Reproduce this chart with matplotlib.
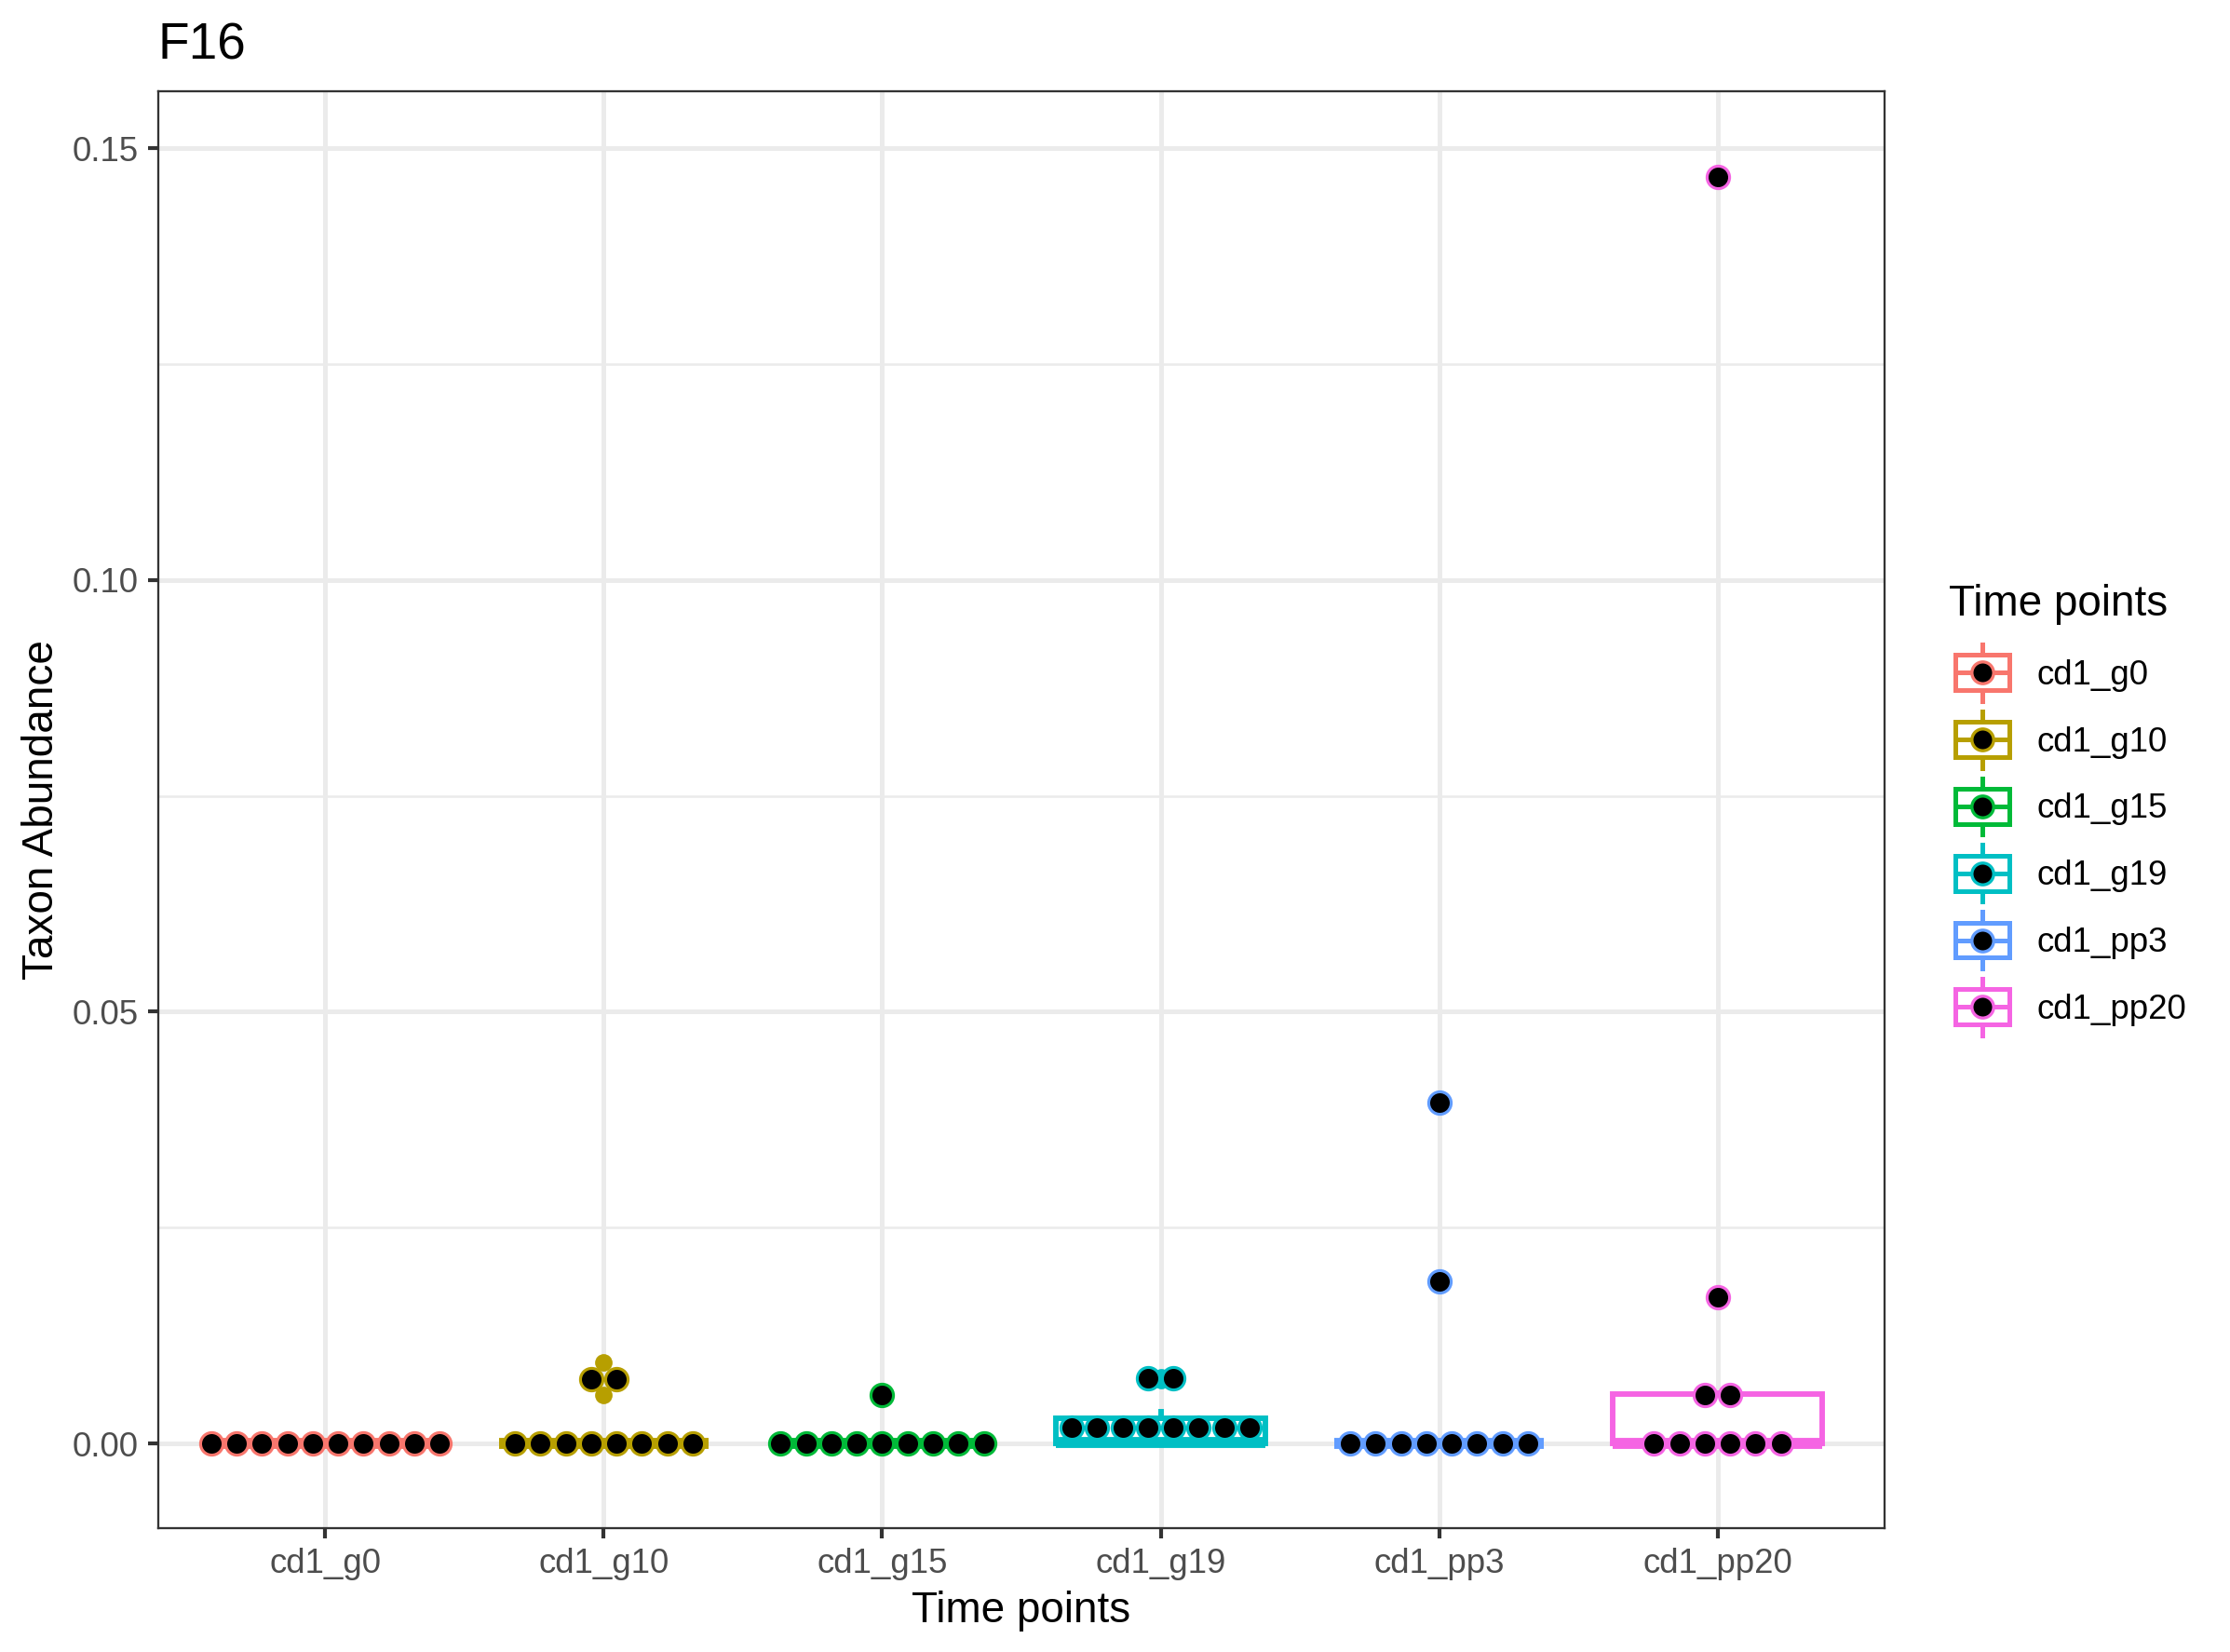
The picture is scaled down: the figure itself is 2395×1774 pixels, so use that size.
import numpy as np
import matplotlib
matplotlib.use("Agg")
import matplotlib.pyplot as plt
from matplotlib.patches import Rectangle
from matplotlib.lines import Line2D
from matplotlib.legend_handler import HandlerBase

plt.rcParams['font.family'] = ['Liberation Sans', 'DejaVu Sans']

# data
categories = ['cd1_g0', 'cd1_g10', 'cd1_g15', 'cd1_g19', 'cd1_pp3', 'cd1_pp20']
colors = ['#F8766D', '#B79F00', '#00BA38', '#00BFC4', '#619CFF', '#F564E3']

cd1_g0 = [0, 0, 0, 0, 0, 0, 0, 0, 0, 0]
cd1_g10 = [0, 0, 0, 0, 0, 0, 0, 0, 0.0056, 0.0094]
cd1_g15 = [0, 0, 0, 0, 0, 0, 0, 0, 0, 0.00565]
cd1_g19 = [0, 0, 0, 0, 0.0001, 0.0002, 0.0007, 0.0037, 0.0074, 0.0077]
cd1_pp3 = [0, 0, 0, 0, 0, 0, 0, 0, 0.0188, 0.0395]
cd1_pp20 = [0, 0, 0, 0, 0, 0, 0.0055, 0.0058, 0.0169, 0.1467]
groups = [cd1_g0, cd1_g10, cd1_g15, cd1_g19, cd1_pp3, cd1_pp20]

BINWIDTH = 0.0049
DOTSIZE = 0.6
YLIM = (-0.0098, 0.1566)
XLIM = (0.4, 6.6)

W, H, DPI = 2395, 1774, 300
fig = plt.figure(figsize=(W / DPI, H / DPI), dpi=DPI)
ax = fig.add_axes([170 / W, (H - 1641) / H, (2024 - 170) / W, (1641 - 98) / H])
ax.set_xlim(*XLIM)
ax.set_ylim(*YLIM)

# size of one dot in points, and its width in x data units
ax_w_pt = (2024 - 170) / DPI * 72
ax_h_pt = (1641 - 98) / DPI * 72
dot_pt = BINWIDTH * DOTSIZE * ax_h_pt / (YLIM[1] - YLIM[0])
dot_x = dot_pt * (XLIM[1] - XLIM[0]) / ax_w_pt
MEW = 0.75


def box_stats(v):
    v = np.asarray(v, dtype=float)
    q1, med, q3 = np.percentile(v, [25, 50, 75])
    iqr = q3 - q1
    inside = v[(v >= q1 - 1.5 * iqr) & (v <= q3 + 1.5 * iqr)]
    out = v[(v < q1 - 1.5 * iqr) | (v > q3 + 1.5 * iqr)]
    return q1, med, q3, inside.min(), inside.max(), out


def dot_bins(v):
    # dot-density binning, like geom_dotplot
    v = np.sort(np.asarray(v, dtype=float))
    bins = []
    i = 0
    while i < len(v):
        start = v[i]
        j = i
        while j < len(v) and v[j] < start + BINWIDTH:
            j += 1
        chunk = v[i:j]
        bins.append(((chunk.min() + chunk.max()) / 2, len(chunk)))
        i = j
    return bins


for k, (vals, col) in enumerate(zip(groups, colors)):
    x = k + 1
    q1, med, q3, lo, hi, out = box_stats(vals)
    ax.add_patch(Rectangle((x - 0.375, q1), 0.75, q3 - q1, facecolor='white',
                           edgecolor=col, lw=1.42, zorder=2))
    ax.plot([x - 0.375, x + 0.375], [med, med], color=col, lw=2.84,
            solid_capstyle='butt', zorder=2.1)
    ax.plot([x, x], [q3, hi], color=col, lw=1.42, zorder=2)
    ax.plot([x, x], [lo, q1], color=col, lw=1.42, zorder=2)
    if len(out):
        ax.plot(np.full(len(out), x), out, 'o', color=col, ms=4.5, mew=0,
                zorder=2.5)
    for yc, n in dot_bins(vals):
        xs = x + (np.arange(n) - (n - 1) / 2) * dot_x
        ax.plot(xs, np.full(n, yc), 'o', ms=dot_pt - MEW, mfc='black',
                mec=col, mew=MEW, zorder=3)

# axes styling (theme_bw-ish)
ax.set_xticks(range(1, len(categories) + 1))
ax.set_xticklabels(categories)
ax.set_yticks([0, 0.05, 0.10, 0.15])
ax.set_yticklabels(['0.00', '0.05', '0.10', '0.15'])
ax.set_yticks([0.025, 0.075, 0.125], minor=True)
ax.tick_params(axis='both', which='major', length=2.75, width=1.0,
               color='#333333', labelsize=8.8, labelcolor='#4D4D4D', pad=2.4)
ax.tick_params(axis='y', which='minor', length=0)
ax.grid(which='major', color='#EBEBEB', lw=1.2, zorder=0)
ax.grid(which='minor', axis='y', color='#EBEBEB', lw=0.6, zorder=0)
ax.set_axisbelow(True)
for s in ax.spines.values():
    s.set_color('#333333')
    s.set_linewidth(0.55)

ax.set_xlabel('Time points', fontsize=11, labelpad=2.5)
ax.set_ylabel('Taxon Abundance', fontsize=11, labelpad=2.5)
ax.set_title('F16', loc='left', fontsize=13.2, pad=8.3)


class BoxKey(HandlerBase):
    def create_artists(self, legend, orig_handle, xdescent, ydescent,
                       width, height, fontsize, trans):
        c = orig_handle.get_color()
        cx = width / 2 - xdescent
        cy = height / 2 - ydescent
        bw, bh, wh = 13.9, 9.1, 14.6
        rect = Rectangle((cx - bw / 2, cy - bh / 2), bw, bh, facecolor='white',
                         edgecolor=c, lw=1.2, transform=trans)
        med = Line2D([cx - bw / 2, cx + bw / 2], [cy, cy], color=c, lw=1.2,
                     transform=trans)
        w1 = Line2D([cx, cx], [cy + bh / 2, cy + wh / 2], color=c, lw=1.2,
                    transform=trans)
        w2 = Line2D([cx, cx], [cy - bh / 2, cy - wh / 2], color=c, lw=1.2,
                    transform=trans)
        dot = Line2D([cx], [cy], marker='o', ms=5.6, mfc='black', mec=c,
                     mew=0.8, transform=trans)
        return [rect, med, w1, w2, dot]


handles = [Line2D([], [], color=c) for c in colors]
leg = fig.legend(handles, categories, title='Time points',
                 loc='upper left', bbox_to_anchor=(2093 / W, 1 - 627 / H),
                 frameon=False, fontsize=8.8, title_fontsize=11,
                 handler_map={Line2D: BoxKey()},
                 handlelength=1.96, handleheight=1.10, labelspacing=0.92,
                 handletextpad=0.63, borderpad=0, borderaxespad=0,
                 alignment='left')

fig.savefig('out.png', dpi=DPI)
